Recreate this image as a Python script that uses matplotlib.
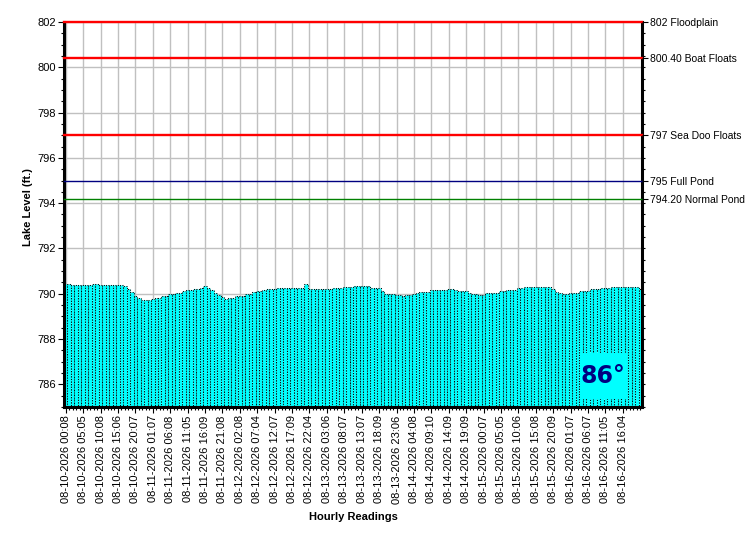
import numpy as np
import matplotlib.pyplot as plt
from matplotlib.ticker import MultipleLocator
from matplotlib.patches import Rectangle

plt.rcParams['font.family'] = ['Liberation Sans', 'DejaVu Sans']

# hourly lake level readings (ft.)
levels = [
    790.42, 790.42, 790.38, 790.38, 790.38, 790.38, 790.38, 790.38, 790.42, 790.42,
    790.38, 790.38, 790.38, 790.38, 790.38, 790.38, 790.38, 790.34, 790.22, 790.06,
    789.92, 789.80, 789.74, 789.74, 789.74, 789.76, 789.82, 789.82, 789.88, 789.90,
    789.97, 789.97, 790.05, 790.05, 790.14, 790.15, 790.16, 790.22, 790.23, 790.27,
    790.33, 790.26, 790.15, 790.05, 789.94, 789.85, 789.77, 789.82, 789.82, 789.89,
    789.89, 789.89, 789.97, 789.97, 790.08, 790.11, 790.14, 790.16, 790.19, 790.21,
    790.23, 790.27, 790.27, 790.27, 790.27, 790.27, 790.27, 790.27, 790.27, 790.42,
    790.22, 790.20, 790.20, 790.19, 790.19, 790.19, 790.19, 790.25, 790.25, 790.25,
    790.30, 790.30, 790.30, 790.35, 790.35, 790.35, 790.35, 790.35, 790.27, 790.27,
    790.24, 790.10, 789.97, 789.97, 789.97, 789.93, 789.93, 789.89, 789.94, 789.96,
    790.01, 790.03, 790.09, 790.09, 790.09, 790.17, 790.17, 790.17, 790.17, 790.17,
    790.22, 790.22, 790.18, 790.14, 790.11, 790.11, 790.02, 790.00, 789.97, 789.94,
    789.94, 790.02, 790.02, 790.02, 790.02, 790.11, 790.11, 790.17, 790.17, 790.17,
    790.25, 790.25, 790.30, 790.30, 790.30, 790.30, 790.30, 790.30, 790.30, 790.30,
    790.20, 790.07, 790.04, 789.97, 789.98, 790.05, 790.05, 790.05, 790.14, 790.14,
    790.14, 790.20, 790.20, 790.20, 790.27, 790.27, 790.27, 790.32, 790.32, 790.32,
    790.32, 790.32, 790.32, 790.32, 790.32, 790.22,
]

# one label every 5 readings
tick_labels = [
    '08-10-2026 00:08', '08-10-2026 05:05', '08-10-2026 10:08', '08-10-2026 15:06', '08-10-2026 20:07',
    '08-11-2026 01:07', '08-11-2026 06:08', '08-11-2026 11:05', '08-11-2026 16:09', '08-11-2026 21:08',
    '08-12-2026 02:08', '08-12-2026 07:04', '08-12-2026 12:07', '08-12-2026 17:09', '08-12-2026 22:04',
    '08-13-2026 03:06', '08-13-2026 08:07', '08-13-2026 13:07', '08-13-2026 18:09', '08-13-2026 23:06',
    '08-14-2026 04:08', '08-14-2026 09:10', '08-14-2026 14:09', '08-14-2026 19:09',
    '08-15-2026 00:07', '08-15-2026 05:05', '08-15-2026 10:06', '08-15-2026 15:08', '08-15-2026 20:09',
    '08-16-2026 01:07', '08-16-2026 06:07', '08-16-2026 11:05', '08-16-2026 16:04',
]
label_step = 5

ref_levels = [802, 800.40, 797, 795, 794.20]
ref_names = ['802 Floodplain', '800.40 Boat Floats', '797 Sea Doo Floats',
             '795 Full Pond', '794.20 Normal Pond']
ref_colors = ['#FF0000', '#FF0000', '#FF0000', '#000080', '#008000']
ref_widths = [1.7, 1.7, 1.7, 1.0, 1.0]

temperature = '86\u00b0'
y_min, y_max = 785, 802

fig = plt.figure(figsize=(7.5, 5.5), dpi=100)
ax = fig.add_axes([64 / 750, 1 - 407 / 550, 578 / 750, 385 / 550])

x = np.arange(len(levels))
heights = np.array(levels) - y_min
ax.bar(x, heights, bottom=y_min, width=1.0, color='#00FFFF',
       edgecolor='black', linewidth=0.75, linestyle=(0, (1, 1.5)), zorder=2)

for lvl, c, lw in zip(ref_levels, ref_colors, ref_widths):
    ax.axhline(lvl, color=c, linewidth=lw, zorder=3, clip_on=False)

ax.set_xlim(-0.5, len(levels) - 0.5)
ax.set_ylim(y_min, y_max)

ax.set_xticks(np.arange(len(tick_labels)) * label_step)
ax.set_xticklabels(tick_labels, rotation=90, fontsize=8)
ax.xaxis.set_minor_locator(MultipleLocator(1))
ax.set_yticks(np.arange(786, 803, 2))
ax.set_yticklabels([str(v) for v in range(786, 803, 2)], fontsize=8)
ax.yaxis.set_minor_locator(MultipleLocator(0.5))
ax.tick_params(which='major', length=4, width=0.8, pad=2)
ax.tick_params(which='minor', length=2.5, width=0.8)

ax.grid(True, which='major', color='#C0C0C0', linewidth=1.0)
ax.set_axisbelow(True)

for side in ['left', 'bottom', 'right']:
    ax.spines[side].set_linewidth(2.2)
ax.spines['top'].set_visible(False)

ax.set_ylabel('Lake Level (ft.)', fontsize=8, fontweight='bold')
ax.yaxis.set_label_coords(-0.054, 0.52)
ax.set_xlabel('Hourly Readings', fontsize=8, fontweight='bold', labelpad=6)

ax2 = ax.twinx()
ax2.set_ylim(y_min, y_max)
ax2.set_yticks(ref_levels)
ax2.set_yticklabels(ref_names, fontsize=7.5)
ax2.yaxis.set_minor_locator(MultipleLocator(0.5))
ax2.tick_params(which='major', length=4, width=0.8, pad=1.5)
ax2.tick_params(which='minor', length=2.5, width=0.8)
for s in ax2.spines.values():
    s.set_visible(False)

# temperature badge
ax.add_patch(Rectangle((0.893, 0.021), 0.081, 0.120, transform=ax.transAxes,
                       facecolor='#00FFFF', edgecolor='none', zorder=4))
ax.text(0.933, 0.081, temperature, transform=ax.transAxes, ha='center', va='center',
        fontsize=17, fontweight='bold', color='#000080', family='DejaVu Sans', zorder=5)

fig.savefig('out.png', dpi=100)
